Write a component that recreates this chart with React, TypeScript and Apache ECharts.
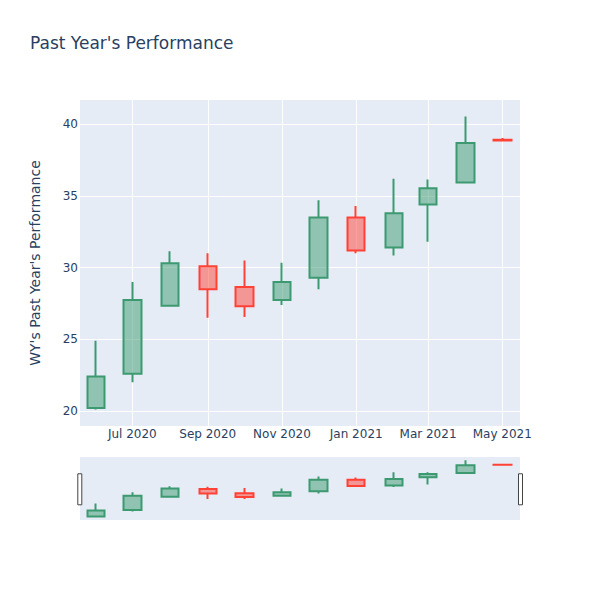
import React, { useEffect, useRef } from 'react';
import * as echarts from 'echarts';

const dates = ['2020-06-01', '2020-07-01', '2020-08-01', '2020-09-01', '2020-10-01', '2020-11-01', '2020-12-01', '2021-01-01', '2021-02-01', '2021-03-01', '2021-04-01', '2021-05-01'];
const opens = [20.2, 22.6, 27.35, 30.1, 28.65, 27.75, 29.3, 33.5, 31.4, 34.4, 35.95, 38.92];
const closes = [22.4, 27.75, 30.3, 28.5, 27.3, 29.0, 33.5, 31.2, 33.8, 35.55, 38.7, 38.87];
const lows = [20.1, 22.0, 27.3, 26.5, 26.55, 27.4, 28.5, 31.0, 30.85, 31.8, 35.9, 38.85];
const highs = [24.9, 29.0, 31.15, 31.0, 30.5, 30.35, 34.7, 34.3, 36.2, 36.15, 40.55, 39.05];
const yTicks = [20, 25, 30, 35, 40];
const xTickDates = ['2020-07-01', '2020-09-01', '2020-11-01', '2021-01-01', '2021-03-01', '2021-05-01'];
const MONTHS = ['Jan', 'Feb', 'Mar', 'Apr', 'May', 'Jun', 'Jul', 'Aug', 'Sep', 'Oct', 'Nov', 'Dec'];

const ts = (s: string) => {
  const [y, m, d] = s.split('-').map(Number);
  return new Date(y, m - 1, d).getTime();
};

const TEXT = '#2a3f5f';
const FONT = '"DejaVu Sans", verdana, arial, sans-serif';
const UP = '#3D9970';
const DOWN = '#FF4136';

export default function App() {
  const ref = useRef<HTMLDivElement>(null);
  useEffect(() => {
    if (!ref.current) return;
    const chart = echarts.init(ref.current, undefined, { renderer: 'svg' });
    const data = dates.map((d, i) => [ts(d), opens[i], closes[i], lows[i], highs[i]]);
    const xMin = new Date(2020, 4, 19).getTime();
    const xMax = new Date(2021, 4, 15, 14).getTime();
    const yMin = 18.95;
    const yMax = 41.7;
    const candleStyle = {
      color: 'rgba(61,153,112,0.5)',
      color0: 'rgba(255,65,54,0.5)',
      borderColor: UP,
      borderColor0: DOWN,
      borderWidth: 2,
    };
    const xTicks = xTickDates.map(ts);
    chart.setOption({
      animation: false,
      backgroundColor: '#fff',
      title: {
        text: "Past Year's Performance",
        left: 30,
        top: 34,
        padding: 0,
        textStyle: { color: TEXT, fontSize: 17, fontWeight: 'normal', fontFamily: FONT },
      },
      grid: [
        { left: 80, top: 100, width: 440, height: 326, show: true, backgroundColor: '#e5ecf6', borderWidth: 0 },
        { left: 80, top: 457, width: 440, height: 63, show: true, backgroundColor: '#e5ecf6', borderWidth: 0 },
      ],
      xAxis: [
        {
          type: 'value',
          gridIndex: 0,
          min: xMin,
          max: xMax,
          axisLine: { show: false },
          axisTick: { show: false, customValues: xTicks },
          splitLine: { show: true, lineStyle: { color: '#fff', width: 1 } },
          axisLabel: {
            customValues: xTicks,
            color: TEXT,
            fontSize: 12,
            fontFamily: FONT,
            margin: 2,
            hideOverlap: false,
            formatter: (v: number) => {
              const d = new Date(v);
              return MONTHS[d.getMonth()] + ' ' + d.getFullYear();
            },
          },
        },
        {
          type: 'value',
          gridIndex: 1,
          min: xMin,
          max: xMax,
          show: false,
          splitLine: { show: false },
        },
      ],
      yAxis: [
        {
          type: 'value',
          gridIndex: 0,
          min: yMin,
          max: yMax,
          axisLine: { show: false },
          axisTick: { show: false, customValues: yTicks },
          splitLine: { show: true, lineStyle: { color: '#fff', width: 1 } },
          axisLabel: { customValues: yTicks, color: TEXT, fontSize: 12, fontFamily: FONT, margin: 2 },
        },
        {
          type: 'value',
          gridIndex: 1,
          min: yMin,
          max: yMax,
          show: false,
          splitLine: { show: false },
        },
      ],
      series: [
        {
          type: 'candlestick',
          xAxisIndex: 0,
          yAxisIndex: 0,
          data,
          encode: { x: 0, y: [1, 2, 3, 4] },
          barWidth: 18,
          itemStyle: candleStyle,
        },
        {
          type: 'candlestick',
          xAxisIndex: 1,
          yAxisIndex: 1,
          data,
          encode: { x: 0, y: [1, 2, 3, 4] },
          barWidth: 18,
          itemStyle: candleStyle,
        },
      ],
      graphic: [
        {
          type: 'text',
          x: 35,
          y: 263,
          rotation: Math.PI / 2,
          style: {
            text: "WY's Past Year's Performance",
            fill: TEXT,
            fontSize: 14,
            fontFamily: FONT,
            align: 'center',
            verticalAlign: 'middle',
          },
        },
        {
          type: 'rect',
          shape: { x: 77.8, y: 473.8, width: 4, height: 31 },
          style: { fill: '#fff', stroke: '#444', lineWidth: 1 },
        },
        {
          type: 'rect',
          shape: { x: 518.5, y: 473.8, width: 4, height: 31 },
          style: { fill: '#fff', stroke: '#444', lineWidth: 1 },
        },
      ],
    });
    return () => chart.dispose();
  }, []);
  return <div ref={ref} style={{ position: 'fixed', left: 0, top: 0, width: 600, height: 600 }} />;
}
